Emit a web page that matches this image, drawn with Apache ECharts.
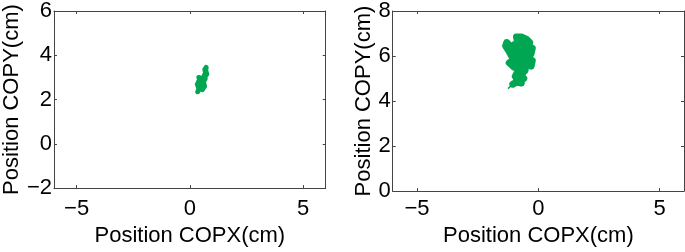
<!DOCTYPE html>
<html><head><meta charset="utf-8">
<script src="https://cdn.jsdelivr.net/npm/echarts@6/dist/echarts.min.js"></script>
<style>html,body{margin:0;padding:0;background:#fff}#c{width:685px;height:252px}</style>
</head><body><div id="c"></div>
<script>
const xTicks = [-5, 0, 5];
const yTicksLeft = [-2, 0, 2, 4, 6];
const yTicksRight = [0, 2, 4, 6, 8];
const xLabel = 'Position COPX(cm)';
const yLabel = 'Position COPY(cm)';
const pathLeft = [[0.35,2.35],[0.4,2.5],[0.33,2.7],[0.45,2.85],[0.4,3.0],[0.55,2.9],[0.5,2.7],[0.6,2.55],[0.55,2.45],[0.65,2.6],[0.6,2.8],[0.68,2.95],[0.62,3.05],[0.7,3.2],[0.66,3.35],[0.72,3.45],[0.7,3.3],[0.75,3.15],[0.65,3.0],[0.55,2.75],[0.45,2.6],[0.5,2.95],[0.38,2.8],[0.45,2.65],[0.58,2.5],[0.62,2.7],[0.5,2.8]];
const tailRight = [[-1.25,4.55],[-1.0,4.8]];
const pathRight = [[-1.05,4.75],[-0.9,4.85],[-0.7,4.8],[-0.75,5.0],[-0.95,5.1],[-0.85,5.3],[-0.65,5.2],[-0.7,5.45],[-1.0,5.5],[-1.2,5.7],[-1.0,5.85],[-0.6,5.6],[-0.3,5.55],[-0.25,5.8],[-0.5,5.9],[-0.8,6.0],[-1.1,6.0],[-1.2,6.2],[-1.35,6.45],[-1.3,6.6],[-1.15,6.4],[-0.95,6.25],[-0.6,6.2],[-0.3,6.1],[-0.25,6.35],[-0.55,6.5],[-0.85,6.6],[-0.9,6.85],[-0.7,6.85],[-0.5,6.75],[-0.35,6.6],[-0.45,6.35],[-0.75,6.4],[-1.0,6.5],[-0.85,6.2],[-0.55,6.0],[-0.35,5.95],[-0.7,5.75],[-0.95,5.65],[-0.8,5.5],[-0.55,5.35],[-0.85,5.15],[-0.6,5.0],[-0.9,4.95]];

const green = '#00a651';
const font = 'Liberation Sans, Arial, sans-serif';
const axisCol = '#444';
function xAx(gi, nameGap, margin, main) {
  return {
    gridIndex: gi, type: 'value', min: -6, max: 6, interval: 5,
    position: main ? 'bottom' : 'top',
    name: main ? xLabel : '', nameLocation: 'middle', nameGap: nameGap,
    nameTextStyle: {fontSize: 22, color: '#000', fontFamily: font},
    axisLine: {show: true, onZero: false, lineStyle: {color: axisCol, width: 1}},
    axisTick: {show: true, inside: true, length: 3, lineStyle: {color: axisCol},
      customValues: xTicks},
    axisLabel: {show: main, fontSize: 22, color: '#000', fontFamily: font, margin: margin,
      customValues: xTicks, formatter: v => (v < 0 ? '\u2212' + Math.abs(v) : String(v))},
    splitLine: {show: false}
  };
}
function yAx(gi, ticks, nameGap, margin, main) {
  return {
    gridIndex: gi, type: 'value', min: ticks[0], max: ticks[ticks.length - 1], interval: 2,
    position: main ? 'left' : 'right',
    name: main ? yLabel : '', nameLocation: 'middle', nameGap: nameGap,
    nameTextStyle: {fontSize: 22, color: '#000', fontFamily: font},
    axisLine: {show: true, onZero: false, lineStyle: {color: axisCol, width: 1}},
    axisTick: {show: true, inside: true, length: 3, lineStyle: {color: axisCol}},
    axisLabel: {show: main, fontSize: 22, color: '#000', fontFamily: font, margin: margin,
      formatter: v => (v < 0 ? '\u2212' + Math.abs(v) : String(v))},
    splitLine: {show: false}
  };
}
const chart = echarts.init(document.getElementById('c'));
chart.setOption({
  animation: false,
  grid: [
    {left: 45, top: 8, width: 280.7, height: 187.5},
    {left: 392.7, top: 8, width: 291.3, height: 194}
  ],
  xAxis: [xAx(0, 32, 10, true), xAx(0, 0, 0, false), xAx(1, 26, 7, true), xAx(1, 0, 0, false)],
  yAxis: [yAx(0, yTicksLeft, 20, 2, true), yAx(0, yTicksLeft, 0, 0, false),
          yAx(1, yTicksRight, 18, 2, true), yAx(1, yTicksRight, 0, 0, false)],
  series: [
    {type: 'line', xAxisIndex: 0, yAxisIndex: 0, data: pathLeft, showSymbol: false,
     lineStyle: {color: green, width: 5, join: 'round', cap: 'round'}},
    {type: 'line', xAxisIndex: 2, yAxisIndex: 2, data: tailRight, showSymbol: false,
     lineStyle: {color: green, width: 1.5}},
    {type: 'line', xAxisIndex: 2, yAxisIndex: 2, data: pathRight, showSymbol: false,
     lineStyle: {color: green, width: 7, join: 'round', cap: 'round'}}
  ]
});
</script></body></html>
